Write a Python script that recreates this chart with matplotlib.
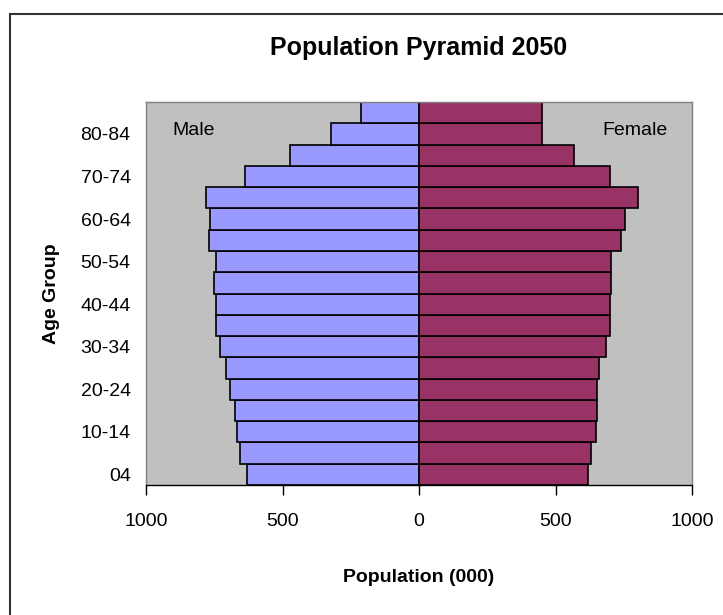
import matplotlib
matplotlib.use('Agg')
from matplotlib import pyplot as plt
from matplotlib.patches import Rectangle
import numpy as np

plt.rcParams['font.family'] = ['Liberation Sans', 'DejaVu Sans']

# age groups from youngest to oldest
age_groups = ['04', '5-9', '10-14', '15-19', '20-24', '25-29', '30-34', '35-39',
              '40-44', '45-49', '50-54', '55-59', '60-64', '65-69', '70-74',
              '75-79', '80-84', '85+']
male = [631, 654, 668, 675, 692, 706, 728, 742, 742, 750, 742, 771, 764, 779,
        639, 471, 323, 214]
female = [618, 631, 647, 653, 653, 661, 684, 698, 698, 705, 705, 741, 756, 802,
          698, 566, 450, 450]
x_ticks = [-1000, -500, 0, 500, 1000]

fig = plt.figure(figsize=(7.23, 6.15), dpi=100)
ax = fig.add_axes([146 / 723, 1 - 485 / 615, 546 / 723, 383 / 615])

# outer chart border
fig.patches.append(Rectangle((10 / 723, -0.1), 1.2, 1 - 13.5 / 615 + 0.1,
                             transform=fig.transFigure, fill=False,
                             edgecolor='#333333', linewidth=1.5))

y = np.arange(len(age_groups))
ax.barh(y, [-v for v in male], height=1.0, color='#9999FF',
        edgecolor='black', linewidth=1.2)
ax.barh(y, female, height=1.0, color='#993366',
        edgecolor='black', linewidth=1.2)

ax.set_facecolor('#C0C0C0')
ax.set_xlim(-1000, 1000)
ax.set_ylim(-0.5, len(age_groups) - 0.5)

ax.set_xticks(x_ticks)
ax.set_xticklabels([str(abs(t)) for t in x_ticks], fontsize=14)
ax.set_yticks(y[::2])
ax.set_yticklabels(age_groups[::2], fontsize=14)
ax.tick_params(axis='y', length=0, pad=11)
ax.tick_params(axis='x', length=7, width=1, direction='out', pad=13)

for side in ['left', 'top', 'right']:
    ax.spines[side].set_color('#808080')
    ax.spines[side].set_linewidth(1)
ax.spines['bottom'].set_color('black')
ax.spines['bottom'].set_linewidth(1)

ax.text(-905, 16.15, 'Male', fontsize=14, va='center', ha='left')
ax.text(910, 16.15, 'Female', fontsize=14, va='center', ha='right')

ax.set_xlabel('Population (000)', fontsize=14, fontweight='bold', va='center')
ax.xaxis.set_label_coords(0.5, (485 - 578) / 383)
ax.set_ylabel('Age Group', fontsize=14, fontweight='bold', va='center')
ax.yaxis.set_label_coords((51 - 146) / 546, 0.5)
fig.text(419 / 723, 1 - 48 / 615, 'Population Pyramid 2050', fontsize=18,
         fontweight='bold', ha='center', va='center')

plt.savefig('out.png', dpi=100)
